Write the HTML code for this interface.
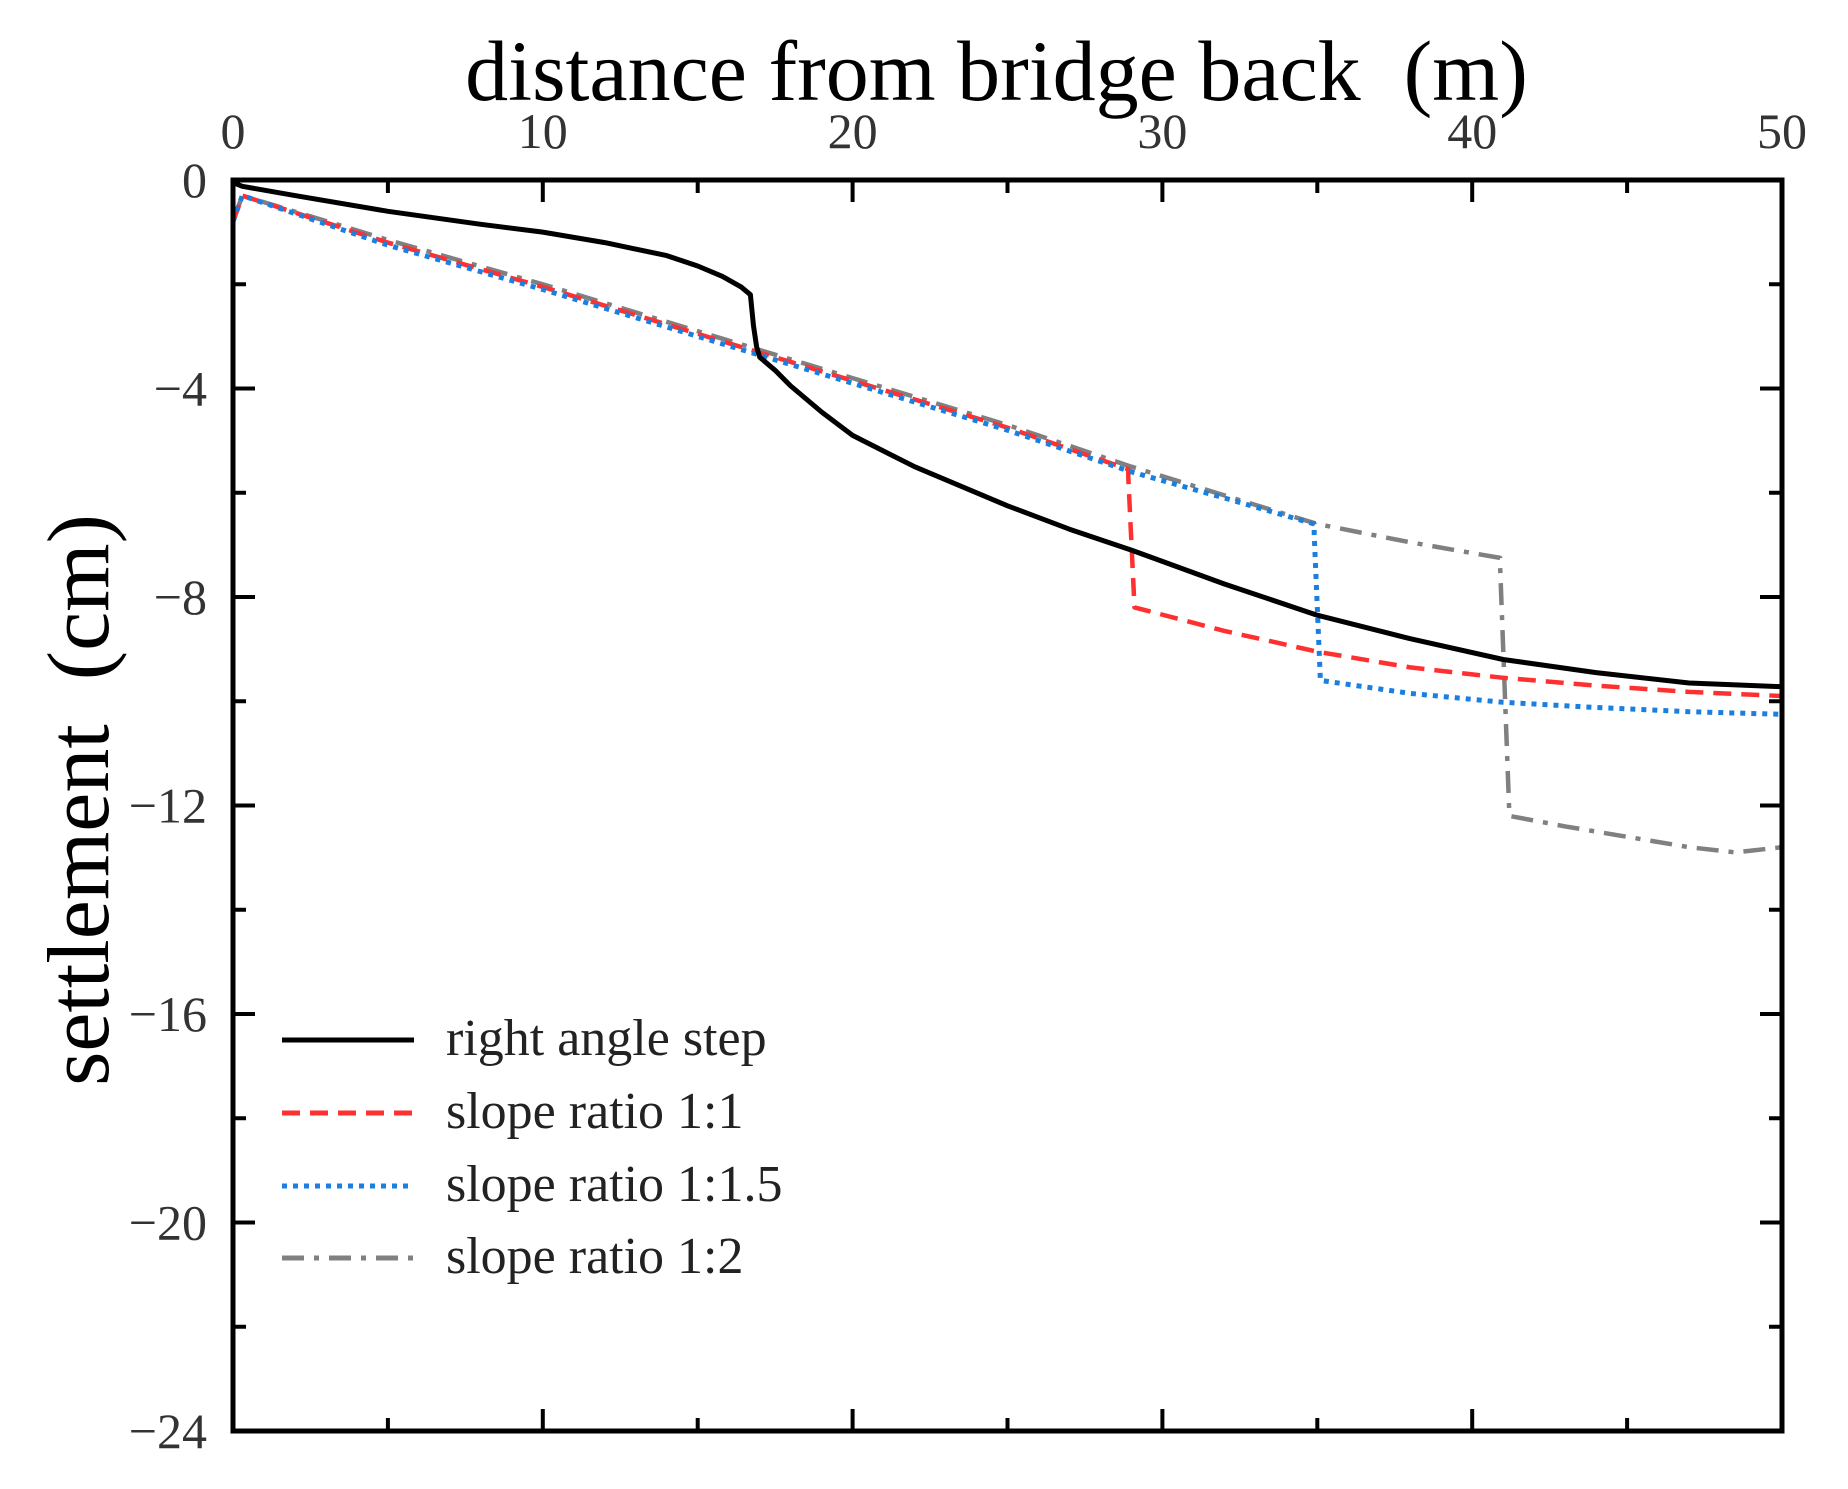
<!DOCTYPE html>
<html><head><meta charset="utf-8"><style>
body{margin:0;background:#fff;}
svg{display:block;}
text{font-family:"Liberation Serif",serif;}
</style></head><body>
<svg id="chart" width="1848" height="1489" viewBox="0 0 1848 1489"></svg>
<script>
const xTicks=[0,10,20,30,40,50];
const yTicks=[0,-4,-8,-12,-16,-20,-24];
const yTickLabels=["0","\u22124","\u22128","\u221212","\u221216","\u221220","\u221224"];
const rightAngleX=[0,0.3,2,5,8,10,12,14,15,15.8,16.4,16.7,16.8,16.9,17,17.5,18,19,20,22,25,27,29,32,35,38,41,44,47,50];
const rightAngleY=[-0.05,-0.12,-0.3,-0.6,-0.85,-1.0,-1.2,-1.45,-1.65,-1.85,-2.05,-2.2,-2.8,-3.2,-3.4,-3.65,-3.95,-4.45,-4.9,-5.5,-6.25,-6.7,-7.1,-7.75,-8.35,-8.8,-9.2,-9.45,-9.65,-9.72];
const slope11X=[0,0.3,5,10,15,20,25,28.9,28.9,29.1,32,35,38,41,44,47,50];
const slope11Y=[-0.8,-0.3,-1.2,-2.05,-2.95,-3.85,-4.75,-5.55,-5.7,-8.2,-8.65,-9.05,-9.35,-9.55,-9.7,-9.82,-9.9];
const slope15X=[0,0.3,5,10,15,20,25,29,32,34.9,34.9,35.1,38,41,44,47,50];
const slope15Y=[-0.8,-0.3,-1.25,-2.1,-3.0,-3.9,-4.8,-5.6,-6.1,-6.6,-6.8,-9.6,-9.85,-10.02,-10.12,-10.2,-10.25];
const slope2X=[0,0.3,5,10,15,20,25,29,32,35,38,40.9,40.9,41.2,43,45,47,48.5,50];
const slope2Y=[-0.8,-0.3,-1.15,-2.0,-2.9,-3.8,-4.7,-5.5,-6.05,-6.6,-6.95,-7.25,-7.4,-12.2,-12.4,-12.6,-12.8,-12.9,-12.8];

const X0=233,X1=1782,Y0=180,Y1=1431;
const sx=v=>X0+(v-0)/(50-0)*(X1-X0);
const sy=v=>Y0+(0-v)/(24)*(Y1-Y0);
const NS="http://www.w3.org/2000/svg";
const svg=document.getElementById('chart');
function mk(tag,attrs,parent){const e=document.createElementNS(NS,tag);for(const k in attrs)e.setAttribute(k,attrs[k]);(parent||svg).appendChild(e);return e;}

let t=mk('text',{x:(466+1527)/2,y:100,'font-size':86,'text-anchor':'middle'});


t.textContent='distance from bridge back\u00a0 (m)';
let yt=mk('text',{x:0,y:0,'font-size':88,'text-anchor':'middle',transform:'translate(108,800) rotate(-90)'});


yt.textContent='settlement\u00a0 (cm)';

const tg=mk('g',{stroke:'#000','stroke-width':4});


for(let v=0;v<=50;v+=5){const maj=v%10===0;const L=maj?22:13;const x=sx(v);
 mk('line',{x1:x,y1:Y0,x2:x,y2:Y0+L},tg);mk('line',{x1:x,y1:Y1,x2:x,y2:Y1-L},tg);}
for(let v=0;v>=-24;v-=2){const maj=v%4===0;const L=maj?22:13;const y=sy(v);
 mk('line',{x1:X0,y1:y,x2:X0+L,y2:y},tg);mk('line',{x1:X1,y1:y,x2:X1-L,y2:y},tg);}
xTicks.forEach(v=>{const e=mk('text',{x:sx(v),y:148,'font-size':50,'text-anchor':'middle',fill:'#333'});
 
 
 e.textContent=String(v);});
yTicks.forEach((v,i)=>{const e=mk('text',{x:207,y:sy(v)+17,'font-size':50,'text-anchor':'end',fill:'#333'});
 
 
 e.textContent=yTickLabels[i];});

function series(xs,ys,color,dash,w,name){const d=xs.map((x,i)=>(i?'L':'M')+sx(x).toFixed(1)+' '+sy(ys[i]).toFixed(1)).join(' ');
 const p=mk('path',{d:d,fill:'none',stroke:color,'stroke-width':w,'stroke-dasharray':dash,'stroke-linejoin':'round'});
 
 }
series(slope2X,slope2Y,'#808080','22 10 5 10',4.5,'series-slope-1-2');
series(slope11X,slope11Y,'#ff3030','18 10',4.5,'series-slope-1-1');
series(slope15X,slope15Y,'#1a7fe0','5 6',5,'series-slope-1-1-5');
series(rightAngleX,rightAngleY,'#000','none',5,'series-right-angle-step');

const fr=mk('rect',{x:X0,y:Y0,width:X1-X0,height:Y1-Y0,fill:'none',stroke:'#000','stroke-width':5});



const lg=mk('g',{});


const legNames=['right angle step','slope ratio 1:1','slope ratio 1:1.5','slope ratio 1:2'];
const legCol=['#000','#ff3030','#1a7fe0','#808080'];
const legDash=['none','18 10','5 6','22 10 5 10'];
const legRowY=[1040,1113,1186,1258];
legNames.forEach((n,i)=>{
 const l=mk('line',{x1:282,x2:414,y1:legRowY[i],y2:legRowY[i],stroke:legCol[i],'stroke-width':5,'stroke-dasharray':legDash[i]},lg);
 
 
 const e=mk('text',{x:446,y:legRowY[i]+15,'font-size':52,fill:'#222'},lg);
 
 
 e.textContent=n;});
</script>
</body></html>
